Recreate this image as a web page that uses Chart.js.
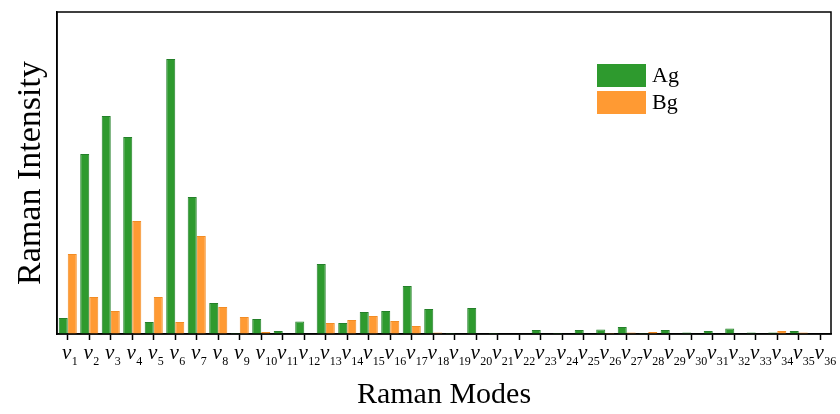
<!DOCTYPE html>
<html>
<head>
<meta charset="utf-8">
<script src="https://cdn.jsdelivr.net/npm/chart.js@4/dist/chart.umd.min.js"></script>
<style>
body { margin:0; background:#ffffff; }
#wrap { width:840px; height:414px; }
</style>
</head>
<body>
<div id="wrap"><canvas id="ramanChart" width="840" height="414"></canvas></div>
<script>

/* DATA */

const modes = ["1","2","3","4","5","6","7","8","9","10","11","12","13","14","15","16","17","18",
"19","20","21","22","23","24","25","26","27","28","29","30","31","32","33","34","35","36"];

const agValues = [16,180,218,197,12,275,137,31,1,15,3,12.5,70,11,22,23,48,25,
1,26,1,0,4,1,4,4.5,7,1,4,1.5,3,5.5,1.5,1.5,3,0];

const bgValues = [80,37,23,113,37,12,98,27,17,2,0,0,11,14,18,13,8,1.5,
0,0,0,0,0,0,0,1,1.5,2,0,0,0,0,0,3,1.5,0];

const yMax = 322;

const serif = "'Liberation Serif', 'Times New Roman', serif";


/* LABELS, TITLES, FRAME, LEGEND */

const decorPlugin = {

id:"decor",

afterDraw(chart){

const ctx = chart.ctx;
const area = chart.chartArea;
const xScale = chart.scales.x;

ctx.save();

// frame
ctx.strokeStyle = "#000";
ctx.lineWidth = 1.5;
ctx.strokeRect(area.left, area.top, area.right - area.left, area.bottom - area.top);

// tick labels  v with subscript
ctx.fillStyle = "#000";
ctx.textBaseline = "alphabetic";
modes.forEach((m, i) => {
const x = xScale.getPixelForTick(i);
ctx.font = "italic 21px " + serif;
ctx.textAlign = "center";
ctx.fillText("v", x - 1, area.bottom + 25);
ctx.font = "12px " + serif;
ctx.textAlign = "left";
ctx.fillText(m, x + 4, area.bottom + 31);
});

// x title
ctx.font = "30px " + serif;
ctx.textAlign = "center";
ctx.fillText("Raman Modes", (area.left + area.right) / 2, 403);

// y title
ctx.save();
ctx.translate(40, (area.top + area.bottom) / 2);
ctx.rotate(-Math.PI / 2);
ctx.font = "34px " + serif;
ctx.textAlign = "center";
ctx.fillText("Raman Intensity", 0, 0);
ctx.restore();

// legend
const lx = area.left + 540;
let ly = area.top + 52;
chart.data.datasets.forEach(ds => {
ctx.fillStyle = ds.backgroundColor;
ctx.fillRect(lx, ly, 49, 23);
ctx.fillStyle = "#000";
ctx.font = "22px " + serif;
ctx.textAlign = "left";
ctx.textBaseline = "middle";
ctx.fillText(ds.label, lx + 55, ly + 12);
ly += 27;
});

ctx.restore();

}

};


/* CHART */

new Chart(document.getElementById("ramanChart"),{

type:"bar",

data:{

labels:modes,

datasets:[
{
label:"Ag",
data:agValues,
backgroundColor:"#2e9a2e",
borderColor:"#24802a",
borderWidth:1,
borderSkipped:"bottom"
},
{
label:"Bg",
data:bgValues,
backgroundColor:"#ff9a33",
borderColor:"#f28c24",
borderWidth:1,
borderSkipped:"bottom"
}
]

},

options:{
responsive:false,
maintainAspectRatio:false,
animation:false,
layout:{ padding:{ left:57, right:9, top:12, bottom:74 } },
categoryPercentage:0.84,
barPercentage:1,
plugins:{
legend:{ display:false },
tooltip:{ enabled:false }
},
scales:{
x:{
offset:true,
grid:{ offset:false, drawOnChartArea:false, tickLength:6, color:"#000", tickWidth:1.5 },
border:{ display:true, color:"#000", width:1.5 },
ticks:{ display:false }
},
y:{
min:0,
max:yMax,
grid:{ display:false, drawTicks:false },
border:{ display:true, color:"#000", width:1.5 },
ticks:{ display:false }
}
}
},

plugins:[decorPlugin]

});

</script>
</body>
</html>
